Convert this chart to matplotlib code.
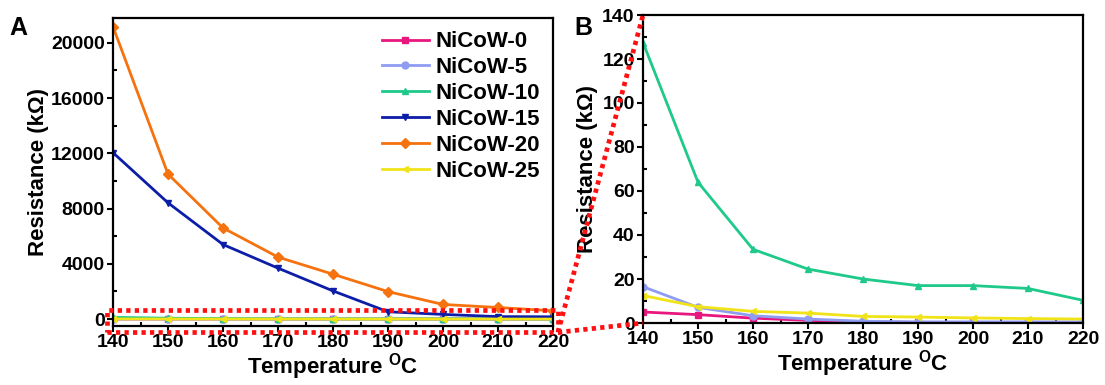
import numpy as np
import matplotlib
matplotlib.use("Agg")
import matplotlib.pyplot as plt
from matplotlib.patches import Rectangle
from matplotlib.lines import Line2D
from matplotlib.ticker import MultipleLocator

plt.rcParams['font.family'] = ['Liberation Sans', 'DejaVu Sans']
plt.rcParams['font.weight'] = 'bold'
plt.rcParams['mathtext.default'] = 'regular'

temps = [140, 150, 160, 170, 180, 190, 200, 210, 220]

labels = ["NiCoW-0", "NiCoW-5", "NiCoW-10", "NiCoW-15", "NiCoW-20", "NiCoW-25"]
colors = ["#E8177F", "#8E9CF2", "#1FC98A", "#0C1EA8", "#F5720F", "#F0E418"]
markers = ["s", "o", "^", "v", "D", "<"]

# resistance in kOhm
nicow_0 = [5.0, 3.8, 2.2, 1.2, 0.5, 0.3, 0.3, 0.3, 0.3]
nicow_5 = [16.5, 7.1, 3.3, 1.8, 0.8, 0.5, 0.5, 0.5, 0.5]
nicow_10 = [127.5, 64.0, 33.5, 24.5, 20.0, 17.0, 17.0, 15.7, 10.3]
nicow_15 = [12050, 8420, 5400, 3690, 2040, 530, 340, 180, 165]
nicow_20 = [21170, 10500, 6600, 4490, 3250, 1990, 1060, 840, 600]
nicow_25 = [12.5, 7.4, 5.3, 4.5, 3.0, 2.7, 2.3, 2.0, 1.8]

series = [nicow_0, nicow_5, nicow_10, nicow_15, nicow_20, nicow_25]

W, H = 1105, 385
fig = plt.figure(figsize=(W / 100, H / 100), dpi=100)
axA = fig.add_axes([113 / W, 1 - 326 / H, 440 / W, 308 / H])
axB = fig.add_axes([643 / W, 1 - 323 / H, 440 / W, 308 / H])


def style_axes(ax):
    for sp in ax.spines.values():
        sp.set_linewidth(1.6)
    ax.tick_params(which="major", direction="out", length=4, width=1.5,
                   labelsize=14, top=False, right=False, pad=2)
    ax.tick_params(which="minor", direction="in", length=3, width=1.5,
                   top=False, right=False)
    ax.xaxis.set_major_locator(MultipleLocator(10))
    ax.xaxis.set_minor_locator(MultipleLocator(5))
    ax.set_xlim(140, 220)
    ax.set_xlabel(r"Temperature $^{\mathregular{O}}$C", fontsize=16,
                  fontweight="bold", labelpad=0)
    ax.set_ylabel("Resistance (k\u03a9)", fontsize=16, fontweight="bold")


for ax in (axA, axB):
    for y, lab, c, m in zip(series, labels, colors, markers):
        ax.plot(temps, y, color=c, marker=m, markersize=5, linewidth=2,
                label=lab)
    style_axes(ax)

axA.set_ylim(-500, 21800)
axA.yaxis.set_major_locator(MultipleLocator(4000))
axA.yaxis.set_minor_locator(MultipleLocator(2000))
axA.yaxis.labelpad = 1

axB.set_ylim(0, 140)
axB.yaxis.set_major_locator(MultipleLocator(20))
axB.yaxis.set_minor_locator(MultipleLocator(10))
axB.yaxis.labelpad = 3

leg = axA.legend(loc="upper right", frameon=False, fontsize=16,
                 handlelength=2.1, handletextpad=0.3, labelspacing=0.22,
                 borderaxespad=0.2, bbox_to_anchor=(1.0, 1.0))

# zoom box and connector lines (dotted red)
red_kw = dict(color="#FF1010", linewidth=3.4, linestyle=(0, (0.9, 0.9)))
box = Rectangle((138.9, -960), 82.0, 1620, fill=False, clip_on=False,
                zorder=5, **red_kw)
axA.add_patch(box)

inv = fig.transFigure.inverted()
corner = inv.transform(axA.transData.transform((220.9, -960)))
for yb in (140, 0):
    end = inv.transform(axB.transData.transform((140, yb)))
    fig.add_artist(Line2D([corner[0], end[0]], [corner[1], end[1]],
                          transform=fig.transFigure, zorder=5, **red_kw))

fig.text(18 / W, 1 - 28 / H, "A", fontsize=18, fontweight="bold",
         ha="center", va="center")
fig.text(583 / W, 1 - 28 / H, "B", fontsize=18, fontweight="bold",
         ha="center", va="center")

fig.savefig("out.png", dpi=100)
